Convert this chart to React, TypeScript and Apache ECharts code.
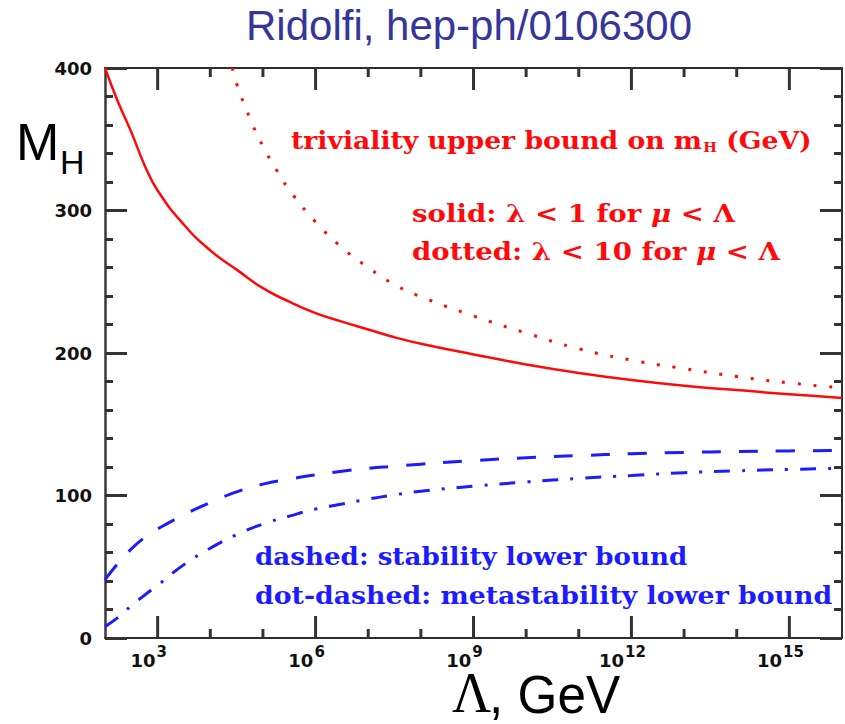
import React, { useEffect, useRef } from "react";
import * as echarts from "echarts";

// log10(Λ / GeV) sample points for the solid upper bound and the two lower bounds
const lambdaExp = [2, 2.25, 2.5, 2.75, 3, 3.5, 4, 4.5, 5, 5.5, 6, 6.5, 7, 7.5, 8, 9, 10, 11, 12, 13, 14, 15, 16];
// triviality bound, λ < 1 for μ < Λ (GeV)
const solidUpper = [400, 376, 355, 332, 314, 290, 272, 258.5, 245.5, 236, 228, 222, 216.5, 211, 206.5, 199, 192, 186, 181, 177, 174, 171, 168.5];
// vacuum stability lower bound (GeV)
const dashedStability = [41, 52.5, 62.5, 70.5, 76.5, 86.5, 95, 102.5, 108, 111.5, 114.5, 117, 119, 120.5, 122, 124.5, 126.5, 128, 129.3, 130.2, 130.8, 131.3, 131.7];
// metastability lower bound (GeV)
const dotDashedMeta = [8, 14.5, 22.7, 30, 37, 51.5, 63, 72.5, 80, 85.5, 90.5, 94, 97.5, 100.5, 103, 106.5, 109.5, 112, 114, 116, 117.3, 118.3, 119.2];

// triviality bound, λ < 10 for μ < Λ: enters the frame near Λ ≈ 10^4.4
const dottedExp = [4.42, 4.5, 4.75, 5, 5.25, 5.5, 6, 6.5, 7, 7.5, 8, 9, 10, 11, 12, 13, 14, 15, 16];
const dottedUpper = [400, 389, 365, 345, 329, 314.5, 292, 274, 260, 248, 239.5, 226, 214, 203, 195, 189, 183.5, 179, 175.5];

// decades on the Λ axis: every decade gets a tick, these ones get a label and a long tick
const xMajorExps = [3, 6, 9, 12, 15];
const xTickExps = [3, 4, 5, 6, 7, 8, 9, 10, 11, 12, 13, 14, 15];

const X_MIN = 2;
const X_MAX = 16;
const Y_MIN = 0;
const Y_MAX = 400;

const RED = "#ff0a0a";
const BLUE = "#1c1cff";
const FRAME = "#2e2e2e";
const TICK = "#333333";
const NOTE_FONT = '"DejaVu Serif"';

const pairs = (xs: number[], ys: number[]) => xs.map((x, i) => [x, ys[i]]);

export default function App() {
  const ref = useRef<HTMLDivElement>(null);

  useEffect(() => {
    const chart = echarts.init(ref.current!, undefined, { renderer: "svg" });
    const frameLine = { show: true, onZero: false, lineStyle: { color: FRAME, width: 2 } };
    const tickLine = { color: TICK, width: 3 };

    const noteRich = (size: number, fill: string) => ({
      t: { fontFamily: NOTE_FONT, fontWeight: "bold", fontSize: size, lineHeight: size, verticalAlign: "top", fill },
      i: { fontFamily: NOTE_FONT, fontWeight: "bold", fontStyle: "italic", fontSize: size, lineHeight: size, verticalAlign: "top", fill },
      h: { fontFamily: NOTE_FONT, fontWeight: "bold", fontSize: 13, lineHeight: 13, verticalAlign: "top", padding: [13, 0, 0, 1], fill },
    });
    const note = (x: number, y: number, sx: number, text: string, fill: string) => ({
      type: "text",
      x,
      y,
      scaleX: sx,
      silent: true,
      style: { text, verticalAlign: "top", align: "left", rich: noteRich(24, fill) },
    });

    // inward decade ticks on the top and bottom edges (long ones at labelled decades)
    const renderXTicks = (_params: any, api: any) => {
      const bottom = api.coord([X_MIN, Y_MIN])[1];
      const top = api.coord([X_MAX, Y_MAX])[1];
      const children: any[] = [];
      xTickExps.forEach((e) => {
        const len = xMajorExps.includes(e) ? 22 : 9;
        const x = api.coord([e, Y_MIN])[0];
        children.push(
          { type: "rect", shape: { x: x - 1.5, y: bottom - len, width: 3, height: len }, style: { fill: TICK } },
          { type: "rect", shape: { x: x - 1.5, y: top, width: 3, height: len }, style: { fill: TICK } }
        );
      });
      return { type: "group", children };
    };

    const yAxisBase = {
      type: "value",
      min: Y_MIN,
      max: Y_MAX,
      interval: 100,
      splitLine: { show: false },
      minorSplitLine: { show: false },
      axisTick: { show: true, inside: true, length: 22, lineStyle: tickLine },
      minorTick: { show: true, splitNumber: 5, length: 8, lineStyle: tickLine },
    };

    chart.setOption({
      animation: false,
      backgroundColor: "#ffffff",
      grid: { left: 105, right: 3, top: 68, bottom: 86 },
      xAxis: [
        {
          type: "value",
          min: X_MIN,
          max: X_MAX,
          interval: 1,
          position: "bottom",
          splitLine: { show: false },
          axisLine: frameLine,
          axisTick: { show: false },
          axisLabel: {
            show: true,
            customValues: xMajorExps,
            margin: 6,
            padding: [0, 18, 0, 0],
            formatter: (v: number) => `{b|10}{s|${v}}`,
            rich: {
              b: { fontFamily: "DejaVu Sans", fontWeight: "bold", fontSize: 18, lineHeight: 18, padding: [7, 0, 0, 0], verticalAlign: "top", color: "#111" },
              s: { fontFamily: "DejaVu Sans", fontWeight: "bold", fontSize: 15, lineHeight: 15, padding: [0, 0, 0, 1], verticalAlign: "top", color: "#111" },
            },
          },
        },
        {
          type: "value",
          min: X_MIN,
          max: X_MAX,
          interval: 1,
          position: "top",
          splitLine: { show: false },
          axisLine: frameLine,
          axisTick: { show: false },
          axisLabel: { show: false },
        },
      ],
      yAxis: [
        {
          ...yAxisBase,
          position: "left",
          axisLine: { show: true, onZero: false, lineStyle: { color: "#3a3a3a", width: 2.5 } },
          axisLabel: { fontFamily: "DejaVu Sans", fontWeight: "bold", fontSize: 18, color: "#111", margin: 13 },
        },
        {
          ...yAxisBase,
          position: "right",
          axisLine: frameLine,
          axisLabel: { show: false },
        },
      ],
      series: [
        {
          name: "solid",
          type: "line",
          data: pairs(lambdaExp, solidUpper),
          smooth: 0.5,
          showSymbol: false,
          silent: true,
          lineStyle: { color: RED, width: 2.5 },
        },
        {
          name: "dotted",
          type: "line",
          data: pairs(dottedExp, dottedUpper),
          smooth: 0.5,
          showSymbol: false,
          silent: true,
          lineStyle: { color: RED, width: 3, type: [3, 12.8], cap: "butt" },
        },
        {
          name: "dashed",
          type: "line",
          data: pairs(lambdaExp, dashedStability),
          smooth: 0.5,
          showSymbol: false,
          silent: true,
          lineStyle: { color: BLUE, width: 3, type: [19, 18], cap: "butt" },
        },
        {
          name: "dot-dashed",
          type: "line",
          data: pairs(lambdaExp, dotDashedMeta),
          smooth: 0.5,
          showSymbol: false,
          silent: true,
          lineStyle: { color: BLUE, width: 3, type: [16, 12, 3, 12], cap: "butt" },
        },
        {
          name: "x ticks",
          type: "custom",
          silent: true,
          z: 10,
          clip: false,
          data: [[X_MIN, Y_MIN]],
          renderItem: renderXTicks,
        },
      ],
      graphic: [
        {
          type: "text",
          x: 469,
          y: 25.5,
          silent: true,
          style: {
            text: "Ridolfi, hep-ph/0106300",
            fontFamily: '"Liberation Sans", Arial, sans-serif',
            fontSize: 42,
            fill: "#36369a",
            align: "center",
            verticalAlign: "middle",
          },
        },
        {
          type: "text",
          x: 16,
          y: 142,
          silent: true,
          style: { text: "M", fontFamily: '"Liberation Sans"', fontSize: 52, fill: "#000", align: "left", verticalAlign: "middle" },
        },
        {
          type: "text",
          x: 60,
          y: 162,
          silent: true,
          style: { text: "H", fontFamily: '"Liberation Sans"', fontSize: 34, fill: "#000", align: "left", verticalAlign: "middle" },
        },
        {
          type: "text",
          x: 452,
          y: 692.5,
          scaleX: 0.95,
          silent: true,
          style: { text: "Λ", fontFamily: '"Liberation Serif"', fontSize: 57, fill: "#000", align: "left", verticalAlign: "middle" },
        },
        {
          type: "text",
          x: 489,
          y: 694,
          scaleX: 0.95,
          silent: true,
          style: { text: ", GeV", fontFamily: '"Liberation Sans"', fontSize: 54, fill: "#000", align: "left", verticalAlign: "middle" },
        },
        note(291, 128, 1.11, "{t|triviality upper bound on m}{h|H}{t| (GeV)}", RED),
        note(412, 202, 1.15, "{t|solid: λ < 1 for }{i|μ}{t| < Λ}", RED),
        note(412, 240, 1.15, "{t|dotted: λ < 10 for }{i|μ}{t| < Λ}", RED),
        note(255, 544, 1.09, "{t|dashed: stability lower bound}", BLUE),
        note(255, 583, 1.115, "{t|dot-dashed: metastability lower bound}", BLUE),
      ],
    });

    return () => chart.dispose();
  }, []);

  return <div ref={ref} style={{ position: "fixed", left: 0, top: 0, width: 845, height: 724 }} />;
}
